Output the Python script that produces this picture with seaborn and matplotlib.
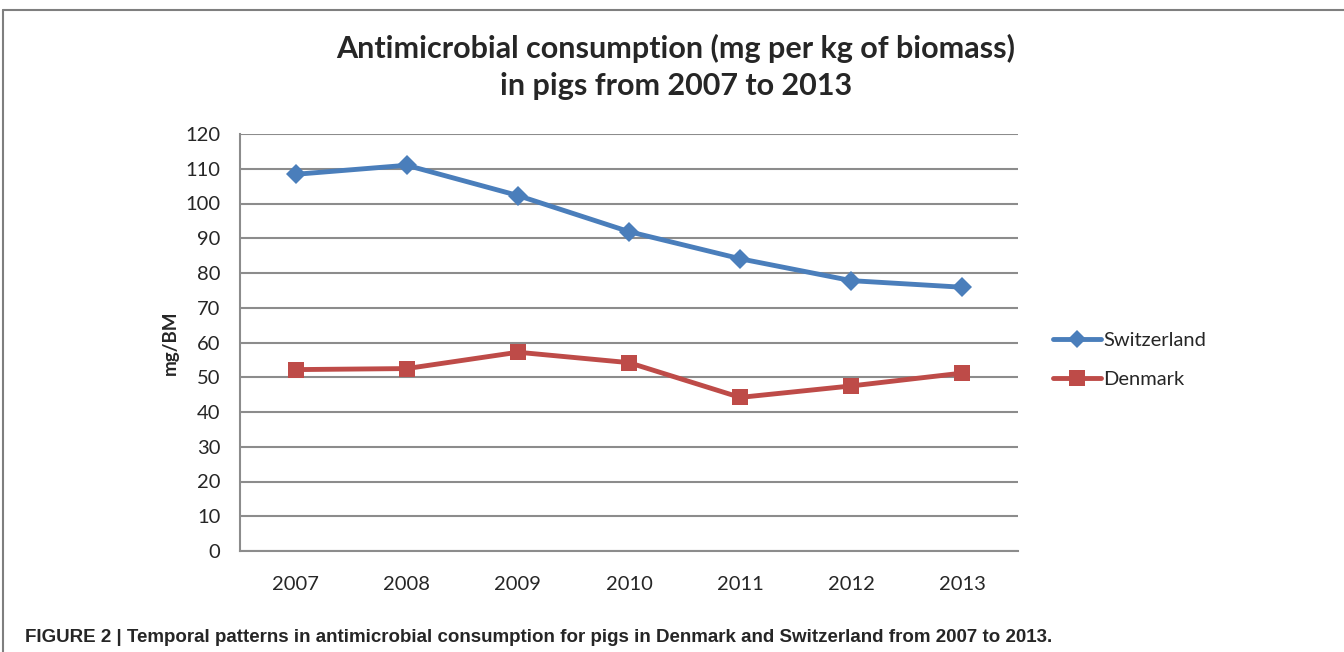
import pandas as pd
import matplotlib.pyplot as plt
import seaborn as sns
from matplotlib.lines import Line2D

# Chart data
years = ['2007', '2008', '2009', '2010', '2011', '2012', '2013']
switzerland = [108.4, 111.0, 102.3, 91.9, 84.1, 77.8, 75.9]
denmark = [52.2, 52.5, 57.2, 54.2, 44.2, 47.5, 51.2]
y_ticks = [0, 10, 20, 30, 40, 50, 60, 70, 80, 90, 100, 110, 120]

BLUE = '#4a7ebb'
RED = '#be4b48'
GRID = '#8c8c8c'

sns.set_style('white')
plt.rcParams['font.family'] = ['Lato', 'DejaVu Sans']

df = pd.DataFrame({
    'idx': list(range(len(years))) * 2,
    'value': switzerland + denmark,
    'country': ['Switzerland'] * len(years) + ['Denmark'] * len(years),
})

fig = plt.figure(figsize=(13.44, 6.52), dpi=100)
ax = fig.add_axes([240 / 1344, 1 - 551 / 652, 778 / 1344, 417 / 652])

sns.lineplot(data=df[df.country == 'Switzerland'], x='idx', y='value', ax=ax,
             color=BLUE, lw=3.5, marker='D', markersize=10, markeredgewidth=0,
             legend=False)
sns.lineplot(data=df[df.country == 'Denmark'], x='idx', y='value', ax=ax,
             color=RED, lw=3.5, marker='s', markersize=11, markeredgewidth=0,
             legend=False)

ax.set_xlim(-0.5, len(years) - 0.5)
ax.set_ylim(0, 120)
ax.set_yticks(y_ticks)
ax.set_xticks(range(len(years)))
ax.set_xticklabels(years)
ax.yaxis.grid(True, color=GRID, lw=1.5)
ax.set_axisbelow(True)
for s in ['top', 'right']:
    ax.spines[s].set_visible(False)
for s in ['left', 'bottom']:
    ax.spines[s].set_color(GRID)
    ax.spines[s].set_linewidth(1.5)
ax.tick_params(axis='y', length=0, pad=14, labelsize=14.5)
ax.tick_params(axis='x', length=0, pad=18, labelsize=14.5)
ax.set_xlabel('')
ax.set_ylabel('mg/BM', fontsize=13.5, fontweight='bold', labelpad=5)

fig.text(0.503, 1 - 48 / 652, 'Antimicrobial consumption (mg per kg of biomass)',
         ha='center', va='center', fontsize=22, fontweight='bold')
fig.text(0.503, 1 - 86 / 652, 'in pigs from 2007 to 2013',
         ha='center', va='center', fontsize=22, fontweight='bold')

handles = [
    Line2D([], [], color=BLUE, lw=3.5, marker='D', markersize=9, markeredgewidth=0),
    Line2D([], [], color=RED, lw=3.5, marker='s', markersize=11, markeredgewidth=0),
]
fig.legend(handles, ['Switzerland', 'Denmark'], loc='center left',
           bbox_to_anchor=(1035 / 1344, 1 - 360 / 652), frameon=False,
           fontsize=14.5, handlelength=2.4, handletextpad=0.1, labelspacing=1.1)

# outer frame (top and left edges only)
fig.add_artist(Line2D([3 / 1344, 1], [1 - 10 / 652, 1 - 10 / 652],
                      transform=fig.transFigure, color='#7f7f7f', lw=1.5))
fig.add_artist(Line2D([3 / 1344, 3 / 1344], [0, 1 - 10 / 652],
                      transform=fig.transFigure, color='#7f7f7f', lw=1.5))

fig.text(25 / 1344, 1 - 637 / 652,
         'FIGURE 2 | Temporal patterns in antimicrobial consumption for pigs in '
         'Denmark and Switzerland from 2007 to 2013.',
         ha='left', va='center', fontsize=13.5, fontweight='bold',
         family=['Liberation Sans', 'DejaVu Sans'])

fig.savefig('out.png', dpi=100)
